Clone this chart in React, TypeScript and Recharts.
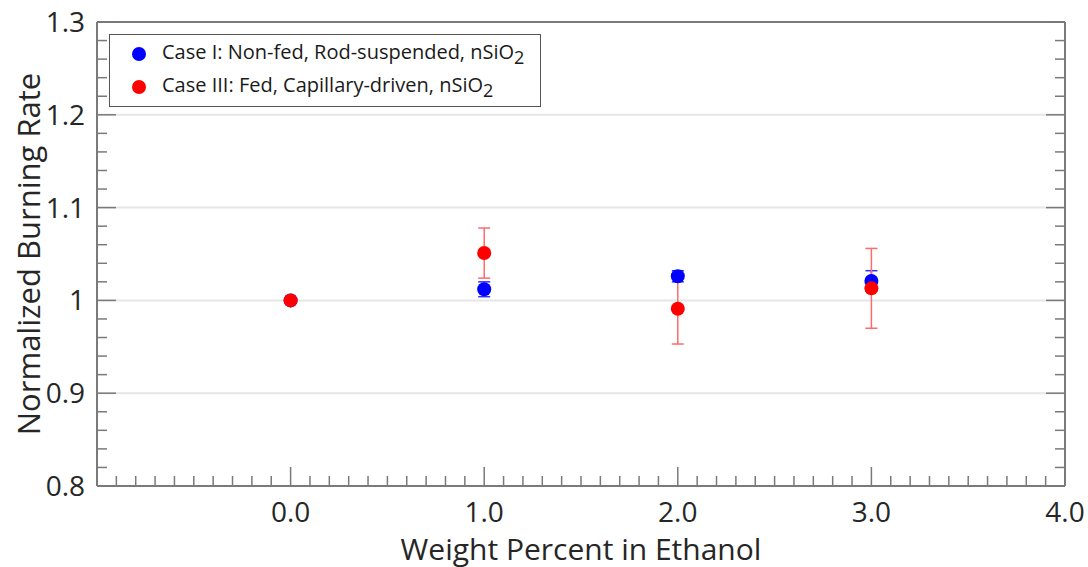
import React from 'react';
import { ScatterChart, Scatter, XAxis, YAxis, ErrorBar, ReferenceLine, Legend } from 'recharts';

// weight percent of nSiO2 in ethanol
const weightPercent = [0, 1, 2, 3];

// Case I: non-fed, rod-suspended
const caseIRate = [1.0, 1.012, 1.026, 1.021];
const caseIErr = [0, 0.008, 0.006, 0.011];

// Case III: fed, capillary-driven
const caseIIIRate = [1.0, 1.051, 0.991, 1.013];
const caseIIIErr = [0, 0.027, 0.038, 0.043];

const xMajor = [0, 1, 2, 3, 4];
const xLabels = ['0.0', '1.0', '2.0', '3.0', '4.0'];
const yMajor = [0.8, 0.9, 1.0, 1.1, 1.2, 1.3];
const yLabels = ['0.8', '0.9', '1', '1.1', '1.2', '1.3'];
const gridValues = [0.9, 1.0, 1.1, 1.2];

// minor ticks: every 0.1 on x, every 0.02 on y
const xTicks = Array.from({ length: 51 }, (_, i) => (i - 10) / 10);
const yTicks = Array.from({ length: 26 }, (_, i) => (80 + i * 2) / 100);

const caseIData = weightPercent.map((x, i) => ({ x, y: caseIRate[i], err: caseIErr[i] }));
const caseIIIData = weightPercent.map((x, i) => ({ x, y: caseIIIRate[i], err: caseIIIErr[i] }));

const AXIS = '#7a7a7a';
const TEXT = '#262626';
const FONT = '"Open Sans", Lato, sans-serif';
const MAJOR = 19;
const MINOR = 10;

const BottomTick = (props: any) => {
  const { x, y, payload } = props;
  const i = xMajor.indexOf(payload.value);
  return (
    <g>
      <line x1={x} x2={x} y1={y} y2={y - (i >= 0 ? MAJOR : MINOR)} stroke={AXIS} strokeWidth={1.5} />
      {i >= 0 && (
        <text x={x} y={y + 36} textAnchor="middle" fontSize={28} fill={TEXT} fontFamily={FONT}>
          {xLabels[i]}
        </text>
      )}
    </g>
  );
};

const TopTick = (props: any) => {
  const { x, y, payload } = props;
  const major = xMajor.indexOf(payload.value) >= 0;
  return <line x1={x} x2={x} y1={y} y2={y + (major ? MAJOR : MINOR)} stroke={AXIS} strokeWidth={1.5} />;
};

const LeftTick = (props: any) => {
  const { x, y, payload } = props;
  const i = yMajor.indexOf(payload.value);
  return (
    <g>
      <line x1={x} x2={x + (i >= 0 ? MAJOR : MINOR)} y1={y} y2={y} stroke={AXIS} strokeWidth={1.5} />
      {i >= 0 && (
        <text x={x - 12} y={y} dy="0.36em" textAnchor="end" fontSize={28} fill={TEXT} fontFamily={FONT}>
          {yLabels[i]}
        </text>
      )}
    </g>
  );
};

const RightTick = (props: any) => {
  const { x, y, payload } = props;
  const major = yMajor.indexOf(payload.value) >= 0;
  return <line x1={x} x2={x - (major ? MAJOR : MINOR)} y1={y} y2={y} stroke={AXIS} strokeWidth={1.5} />;
};

const renderLegend = (props: any) => {
  const { payload } = props;
  return (
    <div
      style={{
        border: '1.5px solid #555',
        background: '#fff',
        width: 432,
        height: 73,
        boxSizing: 'border-box',
        fontFamily: FONT,
        fontSize: 20,
        color: '#1a1a1a',
        paddingTop: 2,
      }}
    >
      {payload.map((entry: any) => (
        <div key={entry.value} style={{ display: 'flex', alignItems: 'center', height: 33, whiteSpace: 'nowrap' }}>
          <span
            style={{
              display: 'inline-block',
              width: 14,
              height: 14,
              borderRadius: 7,
              background: entry.color,
              marginLeft: 22,
              marginRight: 16,
            }}
          />
          <span>
            {entry.value.slice(0, -1)}
            <sub style={{ fontSize: 18 }}>2</sub>
          </span>
        </div>
      ))}
    </div>
  );
};

const dot = (color: string) => (p: any) => <circle cx={p.cx} cy={p.cy} r={7} fill={color} />;

export default function App() {
  return (
    <div style={{ position: 'absolute', left: 0, top: 0, background: '#fff' }}>
      <ScatterChart width={1088} height={567} margin={{ top: 0, right: 0, bottom: 0, left: 0 }}>
        {gridValues.map((v) => (
          <ReferenceLine key={v} y={v} stroke="#e6e6e6" strokeWidth={2} />
        ))}
        <XAxis
          dataKey="x"
          type="number"
          domain={[-1, 4]}
          ticks={xTicks}
          interval={0}
          allowDataOverflow
          height={81}
          tickSize={0}
          tickMargin={0}
          tickLine={false}
          tick={BottomTick}
          axisLine={{ stroke: AXIS, strokeWidth: 2 }}
          label={{
            content: (p: any) => (
              <text
                x={p.viewBox.x + p.viewBox.width / 2}
                y={p.viewBox.y + 74}
                textAnchor="middle"
                fontSize={30}
                fill={TEXT}
                fontFamily={FONT}
              >
                Weight Percent in Ethanol
              </text>
            ),
          }}
        />
        <XAxis
          xAxisId="top"
          orientation="top"
          type="number"
          domain={[-1, 4]}
          ticks={xTicks}
          interval={0}
          allowDataOverflow
          height={22}
          tickSize={0}
          tickMargin={0}
          tickLine={false}
          tick={TopTick}
          axisLine={{ stroke: AXIS, strokeWidth: 2 }}
        />
        <YAxis
          dataKey="y"
          type="number"
          domain={[0.8, 1.3]}
          ticks={yTicks}
          interval={0}
          allowDataOverflow
          width={97}
          tickSize={0}
          tickMargin={0}
          tickLine={false}
          tick={LeftTick}
          axisLine={{ stroke: AXIS, strokeWidth: 2 }}
          label={{
            content: (p: any) => {
              const cx = 29;
              const cy = p.viewBox.y + p.viewBox.height / 2;
              return (
                <text
                  x={cx}
                  y={cy}
                  dy="0.35em"
                  transform={`rotate(-90, ${cx}, ${cy})`}
                  textAnchor="middle"
                  fontSize={31}
                  fill={TEXT}
                  fontFamily={FONT}
                >
                  Normalized Burning Rate
                </text>
              );
            },
          }}
        />
        <YAxis
          yAxisId="right"
          orientation="right"
          type="number"
          domain={[0.8, 1.3]}
          ticks={yTicks}
          interval={0}
          allowDataOverflow
          width={23}
          tickSize={0}
          tickMargin={0}
          tickLine={false}
          tick={RightTick}
          axisLine={{ stroke: AXIS, strokeWidth: 2 }}
        />
        <Legend
          layout="horizontal"
          align="center"
          verticalAlign="middle"
          content={renderLegend}
          wrapperStyle={{ left: 109, top: 34, width: 'auto' }}
        />
        <Scatter
          name="Case I: Non-fed, Rod-suspended, nSiO2"
          data={caseIData}
          fill="#0000ff"
          shape={dot('#0000ff')}
          isAnimationActive={false}
        >
          <ErrorBar dataKey="err" direction="y" width={6} stroke="#3030ff" strokeWidth={1.5} isAnimationActive={false} />
        </Scatter>
        <Scatter
          name="Case III: Fed, Capillary-driven, nSiO2"
          data={caseIIIData}
          fill="#ff0000"
          shape={dot('#ff0000')}
          isAnimationActive={false}
        >
          <ErrorBar dataKey="err" direction="y" width={6} stroke="#ff6a6a" strokeWidth={1.5} isAnimationActive={false} />
        </Scatter>
      </ScatterChart>
    </div>
  );
}
